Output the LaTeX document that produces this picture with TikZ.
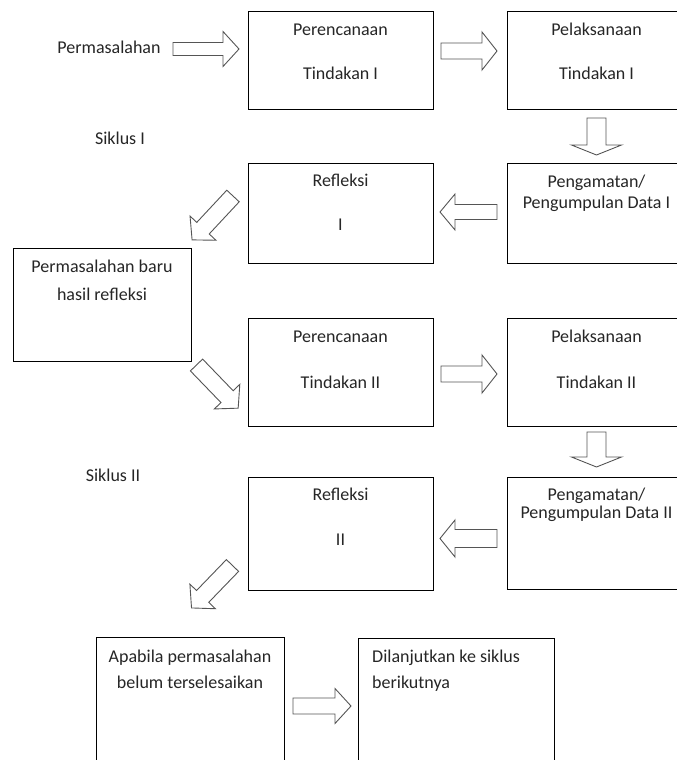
\documentclass[tikz,border=0pt]{standalone}
\usepackage{fontspec}
\setmainfont{Carlito}
\usetikzlibrary{calc}
\definecolor{txt}{HTML}{262626}
\definecolor{arrowgray}{HTML}{555555}
\tikzset{
  box/.style={draw=black, line width=0.9pt, inner sep=0pt, outer sep=0pt, fill=none},
  lbl/.style={text=txt, font=\fontsize{18}{22}\selectfont, inner sep=0pt, anchor=base},
  arrowline/.style={draw=arrowgray, line width=0.9pt, line join=miter, fill=white},
  pics/blockarrow/.style n args={4}{code={
    \draw[arrowline] (0,-#2) -- (#1-#4,-#2) -- (#1-#4,-#3) -- (#1,0) -- (#1-#4,#3) -- (#1-#4,#2) -- (0,#2) -- cycle;
  }}
}
\begin{document}
\begin{tikzpicture}[x=1pt,y=-1pt]
\useasboundingbox (0,0) rectangle (677,760);
\clip (0,0) rectangle (677,760);
\fill[white] (0,0) rectangle (677,760);

% boxes
\node[box, minimum width=185, minimum height=98]  (p1) at (340.5,60) {};
\node[box, minimum width=179, minimum height=98]  (l1) at (596.5,60) {};
\node[box, minimum width=179, minimum height=100] (g1) at (596.5,213) {};
\node[box, minimum width=185, minimum height=100] (r1) at (340.5,213) {};
\node[box, minimum width=178, minimum height=113] (pb) at (102,304.5) {};
\node[box, minimum width=185, minimum height=108] (p2) at (340.5,372) {};
\node[box, minimum width=179, minimum height=108] (l2) at (596.5,372) {};
\node[box, minimum width=179, minimum height=112] (g2) at (596.5,533) {};
\node[box, minimum width=185, minimum height=113] (r2) at (340.5,533.5) {};
\node[box, minimum width=188, minimum height=133] (ap) at (190,703.5) {};
\node[box, minimum width=196, minimum height=132] (dl) at (456,704) {};

% free texts
\node[lbl] (perm) at (109,54) {Permasalahan};
\node[lbl] (sik1) at (120,144) {Siklus I};
\node[lbl] (sik2) at (113,481) {Siklus II};

% texts in boxes
\node[lbl] (p1a) at ($(p1.north)+(0,25)$) {Perencanaan};
\node[lbl] (p1b) at ($(p1.north)+(0,69)$) {Tindakan I};
\node[lbl] (l1a) at ($(l1.north)+(0,25)$) {Pelaksanaan};
\node[lbl] (l1b) at ($(l1.north)+(0,69)$) {Tindakan I};
\node[lbl] (g1a) at ($(g1.north)+(0,24)$) {Pengamatan/};
\node[lbl] (g1b) at ($(g1.north)+(0,45)$) {Pengumpulan Data I};
\node[lbl] (r1a) at ($(r1.north)+(0,23)$) {Refleksi};
\node[lbl] (r1b) at ($(r1.north)+(0,67)$) {I};
\node[lbl] (pba) at ($(pb.north)+(0,24)$) {Permasalahan baru};
\node[lbl] (pbb) at ($(pb.north)+(0,52)$) {hasil refleksi};
\node[lbl] (p2a) at ($(p2.north)+(0,24)$) {Perencanaan};
\node[lbl] (p2b) at ($(p2.north)+(0,70)$) {Tindakan II};
\node[lbl] (l2a) at ($(l2.north)+(0,24)$) {Pelaksanaan};
\node[lbl] (l2b) at ($(l2.north)+(0,70)$) {Tindakan II};
\node[lbl] (g2a) at ($(g2.north)+(0,23)$) {Pengamatan/};
\node[lbl] (g2b) at ($(g2.north)+(0,41)$) {Pengumpulan Data II};
\node[lbl] (r2a) at ($(r2.north)+(0,23)$) {Refleksi};
\node[lbl] (r2b) at ($(r2.north)+(0,68)$) {II};
\node[lbl] (apa) at ($(ap.north)+(0,25)$) {Apabila permasalahan};
\node[lbl] (apb) at ($(ap.north)+(0,51)$) {belum terselesaikan};
\node[lbl, anchor=base west] (dla) at ($(dl.north west)+(14,24)$) {Dilanjutkan ke siklus};
\node[lbl, anchor=base west] (dlb) at ($(dl.north west)+(14,50)$) {berikutnya};

% block arrows
\pic (a1) at ($(p1.west)+(-75,-11)$) {blockarrow={66}{6.5}{17.5}{16}};
\pic (a2) at ($(p1.east)+(8,-9)$) {blockarrow={56}{8}{19}{15}};
\pic[rotate=-90] (a3) at ($(l1.south)+(0,9)$) {blockarrow={37}{9.5}{25}{10}};
\pic[rotate=180] (a4) at ($(g1.west)+(-10,-1)$) {blockarrow={57}{7.5}{18}{15}};
\pic[rotate=-133] (a5) at ($(r1.west)+(-15,-17)$) {blockarrow={60}{8.5}{17.7}{16}};
\pic[rotate=-46] (a6) at ($(pb.south east)+(5.5,4)$) {blockarrow={60}{8.5}{17.7}{16}};
\pic (a7) at ($(p2.east)+(8,2)$) {blockarrow={56}{8}{19}{15}};
\pic[rotate=-90] (a8) at ($(l2.south)+(0,6)$) {blockarrow={35}{9.5}{25}{10}};
\pic[rotate=180] (a9) at ($(g2.west)+(-10,5.5)$) {blockarrow={57}{9}{18.5}{15}};
\pic[rotate=-134] (a10) at ($(r2.west)+(-15.5,32)$) {blockarrow={59}{8.5}{17.7}{16}};
\pic (a11) at ($(ap.east)+(9,2.5)$) {blockarrow={58}{8}{17.5}{16}};
\end{tikzpicture}
\end{document}
